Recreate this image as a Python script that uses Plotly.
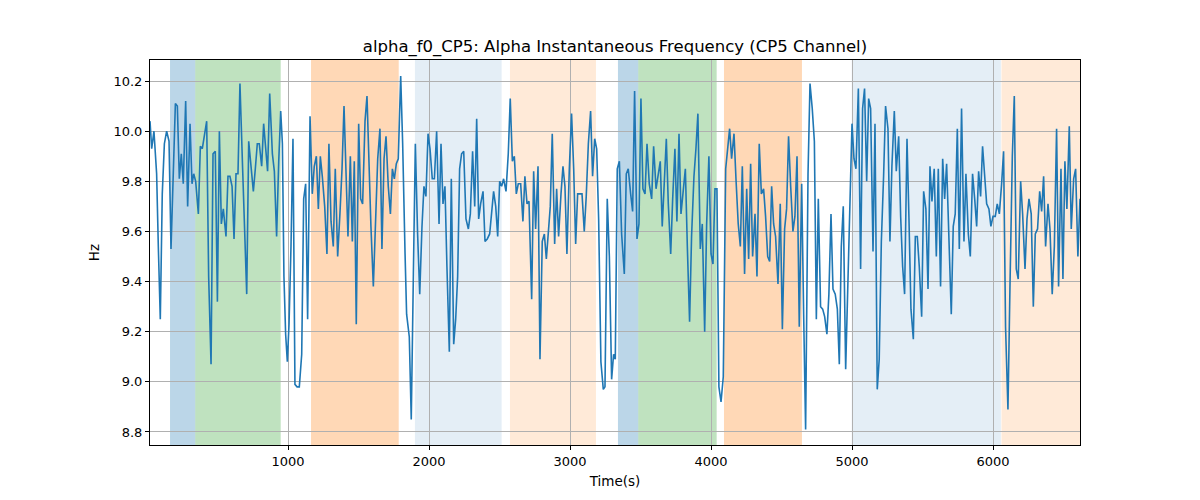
import plotly.graph_objects as go

# --- data -------------------------------------------------------------
time_s = [
    21, 33, 49, 68, 80, 94, 108, 123, 139, 156, 170, 186, 201, 215, 229, 243, 257, 274, 288, 305,
    319, 331, 345, 364, 378, 392, 406, 423, 437, 454, 468, 484, 499, 513, 527, 541, 560, 574, 588, 603,
    617, 631, 645, 659, 678, 692, 707, 721, 737, 754, 768, 782, 796, 813, 827, 841, 855, 870,
    889, 903, 919, 934, 948, 960, 971, 983, 995, 1007, 1021, 1035, 1049, 1064, 1080, 1097, 1111, 1125,
    1139, 1156, 1172, 1186, 1201, 1215, 1229, 1243, 1260, 1276, 1290, 1305, 1321, 1335, 1352, 1368,
    1383, 1397, 1411, 1425, 1442, 1456, 1470, 1484, 1501, 1515, 1529, 1546, 1560, 1574, 1588, 1605,
    1621, 1636, 1652, 1666,
    1681, 1695, 1711, 1726, 1740, 1754, 1768, 1782, 1799, 1813, 1830, 1841, 1860, 1874, 1889, 1903,
    1919, 1934, 1950, 1964, 1978, 1993, 2007, 2023, 2038, 2054, 2071, 2085, 2099, 2113, 2127, 2144,
    2158, 2175, 2189, 2203, 2217, 2231, 2246, 2262, 2279, 2293, 2309, 2324, 2338, 2352, 2366, 2383,
    2397, 2413, 2430, 2444, 2458, 2473, 2487,
    2501, 2515, 2529, 2546, 2562, 2576, 2591, 2605, 2619, 2633, 2650, 2666, 2680, 2695, 2709, 2728,
    2742, 2756, 2773, 2787, 2803, 2818, 2832, 2846, 2860, 2874, 2891, 2905, 2919, 2936, 2950, 2964,
    2978, 2995, 3011, 3026, 3040, 3054, 3071, 3085, 3101, 3115, 3130, 3146, 3160, 3175, 3189, 3203,
    3219, 3236, 3248, 3264, 3279, 3295, 3309,
    3321, 3335, 3350, 3366, 3385, 3399, 3413, 3430, 3444, 3458, 3475, 3489, 3503, 3517, 3532, 3546,
    3562, 3579, 3593, 3610, 3626, 3640, 3654, 3669, 3683, 3697, 3714, 3728, 3744, 3758, 3773, 3787,
    3803, 3818, 3832, 3848, 3862, 3879, 3893, 3907, 3924, 3938, 3955, 3969, 3985, 4000, 4014, 4028,
    4042, 4056, 4071, 4087, 4104, 4118,
    4132, 4146, 4163, 4177, 4193, 4208, 4222, 4238, 4253, 4267, 4281, 4295, 4312, 4326, 4342, 4357,
    4373, 4387, 4402, 4416, 4430, 4444, 4458, 4475, 4491, 4506, 4522, 4536, 4550, 4565, 4581, 4595,
    4610, 4626, 4643, 4657, 4671, 4688, 4702, 4718, 4733, 4747, 4761, 4777, 4792, 4806, 4822, 4836,
    4851, 4865, 4881, 4896, 4910, 4924, 4938,
    4955, 4971, 4985, 5000, 5014, 5028, 5045, 5061, 5075, 5089, 5104, 5118, 5132, 5149, 5163, 5179,
    5193, 5208, 5224, 5238, 5255, 5269, 5283, 5300, 5314, 5331, 5345, 5359, 5373, 5390, 5404, 5418,
    5435, 5449, 5463, 5477, 5494, 5508, 5524, 5539, 5553, 5567, 5583, 5598, 5612, 5628, 5643, 5657,
    5671, 5688, 5704, 5718, 5732, 5747, 5761,
    5777, 5794, 5808, 5825, 5839, 5855, 5870, 5884, 5898, 5912, 5926, 5941, 5955, 5971, 5985, 6000,
    6016, 6030, 6045, 6061, 6075, 6089, 6106, 6120, 6137, 6151, 6165, 6179, 6196, 6210, 6227, 6241,
    6255, 6271, 6286, 6300, 6316, 6331, 6345, 6359, 6373, 6390, 6404, 6420, 6435, 6451, 6465, 6482,
    6496, 6510, 6524, 6541, 6555, 6572, 6586, 6602, 6617,
]

alpha_f0_hz = [
    10.04, 9.93, 10.0, 9.83, 9.54, 9.25, 9.75, 9.95, 10.0, 9.96, 9.53, 9.89, 10.11, 10.10, 9.81, 9.91, 9.79, 10.12, 9.70, 10.03,
    9.79, 9.83, 9.80, 9.67, 9.94, 9.93, 9.98, 10.04, 9.42, 9.07, 9.91, 9.92, 9.32, 10.0, 9.63, 9.69, 9.58, 9.82, 9.82, 9.78,
    9.57, 9.83, 9.83, 10.19, 9.85, 9.62, 9.35, 9.96, 9.85, 9.76, 9.85, 9.95, 9.95, 9.86, 10.03, 9.93, 9.84, 10.15,
    9.91, 9.84, 9.58, 9.88, 10.08, 9.95, 9.42, 9.19, 9.08, 9.23, 9.54, 9.97, 8.99, 8.98, 8.98, 9.11, 9.73, 9.79,
    9.25, 10.06, 9.75, 9.86, 9.90, 9.69, 9.90, 9.82, 9.70, 9.51, 9.95, 9.64, 9.54, 9.85, 9.50, 9.67,
    9.85, 10.10, 9.85, 9.58, 9.90, 9.56, 9.88, 9.23, 10.03, 9.73, 9.71, 10.04, 10.14, 9.87, 9.62, 9.38,
    9.66, 9.89, 10.01, 9.53,
    9.89, 9.98, 9.78, 9.67, 9.85, 9.81, 9.87, 9.89, 10.22, 9.95, 9.51, 9.27, 9.18, 8.85, 9.43, 9.95,
    9.59, 9.35, 9.62, 9.78, 9.74, 9.99, 9.93, 9.81, 9.81, 10.0, 9.63, 9.95, 9.71, 9.78, 9.46, 9.12,
    9.81, 9.15, 9.25, 9.42, 9.85, 9.91, 9.92, 9.65, 9.61, 9.67, 9.92, 9.70, 10.05, 9.65, 9.71, 9.76,
    9.56, 9.57, 9.59, 9.68, 9.76, 9.70, 9.58,
    9.80, 9.78, 9.81, 9.76, 9.91, 10.13, 9.88, 9.90, 9.75, 9.79, 9.79, 9.64, 9.82, 9.71, 9.72, 9.33,
    9.84, 9.61, 9.86, 9.09, 9.56, 9.59, 9.49, 9.61, 9.70, 9.99, 9.55, 9.77, 9.58, 9.75, 9.86, 9.78,
    9.51, 9.85, 10.07, 9.85, 9.55, 9.75, 9.75, 9.75, 9.60, 9.74, 9.95, 10.08, 9.82, 9.97, 9.93, 9.65,
    9.08, 8.97, 8.98, 9.73, 9.50, 9.01, 9.11,
    9.09, 9.85, 9.88, 9.59, 9.43, 9.83, 9.85, 9.75, 9.68, 10.16, 9.57, 9.63, 10.13, 9.77, 9.75, 9.95,
    9.79, 9.73, 9.94, 9.77, 9.82, 9.88, 9.62, 9.80, 9.97, 9.71, 9.51, 9.73, 9.93, 9.64, 9.99, 9.67,
    9.75, 9.85, 9.54, 9.24, 9.58, 9.82, 9.93, 10.07, 9.53, 9.63, 9.20, 9.63, 9.90, 9.51, 9.47, 9.77,
    9.77, 8.98, 8.92, 9.02, 9.85, 9.93,
    10.01, 9.89, 9.99, 9.81, 9.63, 9.54, 9.86, 9.43, 9.77, 9.49, 9.87, 9.50, 9.67, 9.42, 9.95, 9.75,
    9.77, 9.66, 9.50, 9.48, 9.78, 9.63, 9.58, 9.39, 9.71, 9.21, 9.61, 9.69, 9.98, 9.78, 9.60, 9.66,
    9.90, 9.22, 9.79, 9.27, 8.81, 9.83, 10.19, 10.09, 9.96, 9.25, 9.73, 9.30, 9.29, 9.26, 9.19, 9.35,
    9.67, 9.37, 9.35, 9.29, 9.07, 9.54, 9.70,
    9.05, 9.43, 9.69, 10.03, 9.89, 9.85, 10.17, 9.45, 10.09, 10.17, 9.80, 10.13, 10.09, 9.52, 10.03, 8.97,
    9.09, 9.56, 9.82, 10.10, 10.01, 9.56, 9.86, 10.08, 9.84, 9.98, 9.66, 9.46, 9.35, 9.97, 9.65, 9.29,
    9.17, 9.58, 9.58, 9.46, 9.26, 9.76, 9.69, 9.37, 9.86, 9.72, 9.85, 9.50, 9.85, 9.38, 9.89, 9.73,
    9.87, 9.54, 9.27, 9.62, 9.67, 10.01, 9.53,
    10.09, 9.56, 9.83, 9.59, 9.50, 9.83, 9.73, 9.62, 9.84, 9.74, 9.94, 9.81, 9.71, 9.69, 9.62, 9.66,
    9.66, 9.71, 9.67, 9.79, 9.92, 9.22, 8.89, 9.37, 9.90, 10.14, 9.45, 9.41, 9.80, 9.67, 9.45, 9.65,
    9.73, 9.67, 9.30, 9.59, 9.61, 9.76, 9.68, 9.82, 9.54, 9.71, 9.61, 9.35, 9.54, 10.01, 9.38, 9.85,
    9.41, 9.88, 9.69, 10.02, 9.61, 9.81, 9.85, 9.50, 9.73,
]

# shaded periods: start, end, colour
span_start = [163, 342, 1163, 1900, 2574, 3340, 3484, 4092, 4998, 6060]
span_end = [342, 948, 1785, 2515, 3184, 3484, 4040, 4645, 6056, 6617]
span_color = [
    "rgba(31,119,180,0.3)", "rgba(44,160,44,0.3)", "rgba(255,127,14,0.3)",
    "rgba(31,119,180,0.12)", "rgba(255,127,14,0.16)",
    "rgba(31,119,180,0.3)", "rgba(44,160,44,0.3)", "rgba(255,127,14,0.3)",
    "rgba(31,119,180,0.12)", "rgba(255,127,14,0.16)",
]

x_ticks = [1000, 2000, 3000, 4000, 5000, 6000]
y_ticks = [8.8, 9.0, 9.2, 9.4, 9.6, 9.8, 10.0, 10.2]

# --- figure -----------------------------------------------------------
fig = go.Figure()
fig.add_trace(go.Scatter(
    x=time_s, y=alpha_f0_hz, mode="lines",
    line=dict(color="#1f77b4", width=1.6), showlegend=False,
))

for s, e, c in zip(span_start, span_end, span_color):
    fig.add_shape(type="rect", xref="x", yref="paper", x0=s, x1=e, y0=0, y1=1,
                  fillcolor=c, line=dict(width=0), layer="below")

axis_common = dict(
    showline=True, linecolor="black", linewidth=1, mirror=True,
    ticks="outside", ticklen=4, tickcolor="black", tickwidth=1,
    showgrid=True, gridcolor="#b0b0b0", gridwidth=0.8, zeroline=False,
    tickfont=dict(family="DejaVu Sans", size=13, color="black"),
)

fig.update_xaxes(range=[21, 6617], tickvals=x_ticks,
                 title=dict(text="Time(s)", font=dict(family="DejaVu Sans", size=13.5, color="black"), standoff=8),
                 **axis_common)
fig.update_yaxes(range=[8.748, 10.284], tickvals=y_ticks, tickformat=".1f",
                 title=dict(text="Hz", font=dict(family="DejaVu Sans", size=13.5, color="black"), standoff=10),
                 **axis_common)

fig.update_layout(
    width=1200, height=500,
    margin=dict(l=142, r=128, t=52, b=63),
    paper_bgcolor="white", plot_bgcolor="white",
    title=dict(text="alpha_f0_CP5: Alpha Instantaneous Frequency (CP5 Channel)",
               x=0.5058, xanchor="center", y=0.924, yanchor="middle",
               font=dict(family="DejaVu Sans", size=16.5, color="black")),
    font=dict(family="DejaVu Sans"),
)

fig.write_html("out.html")
